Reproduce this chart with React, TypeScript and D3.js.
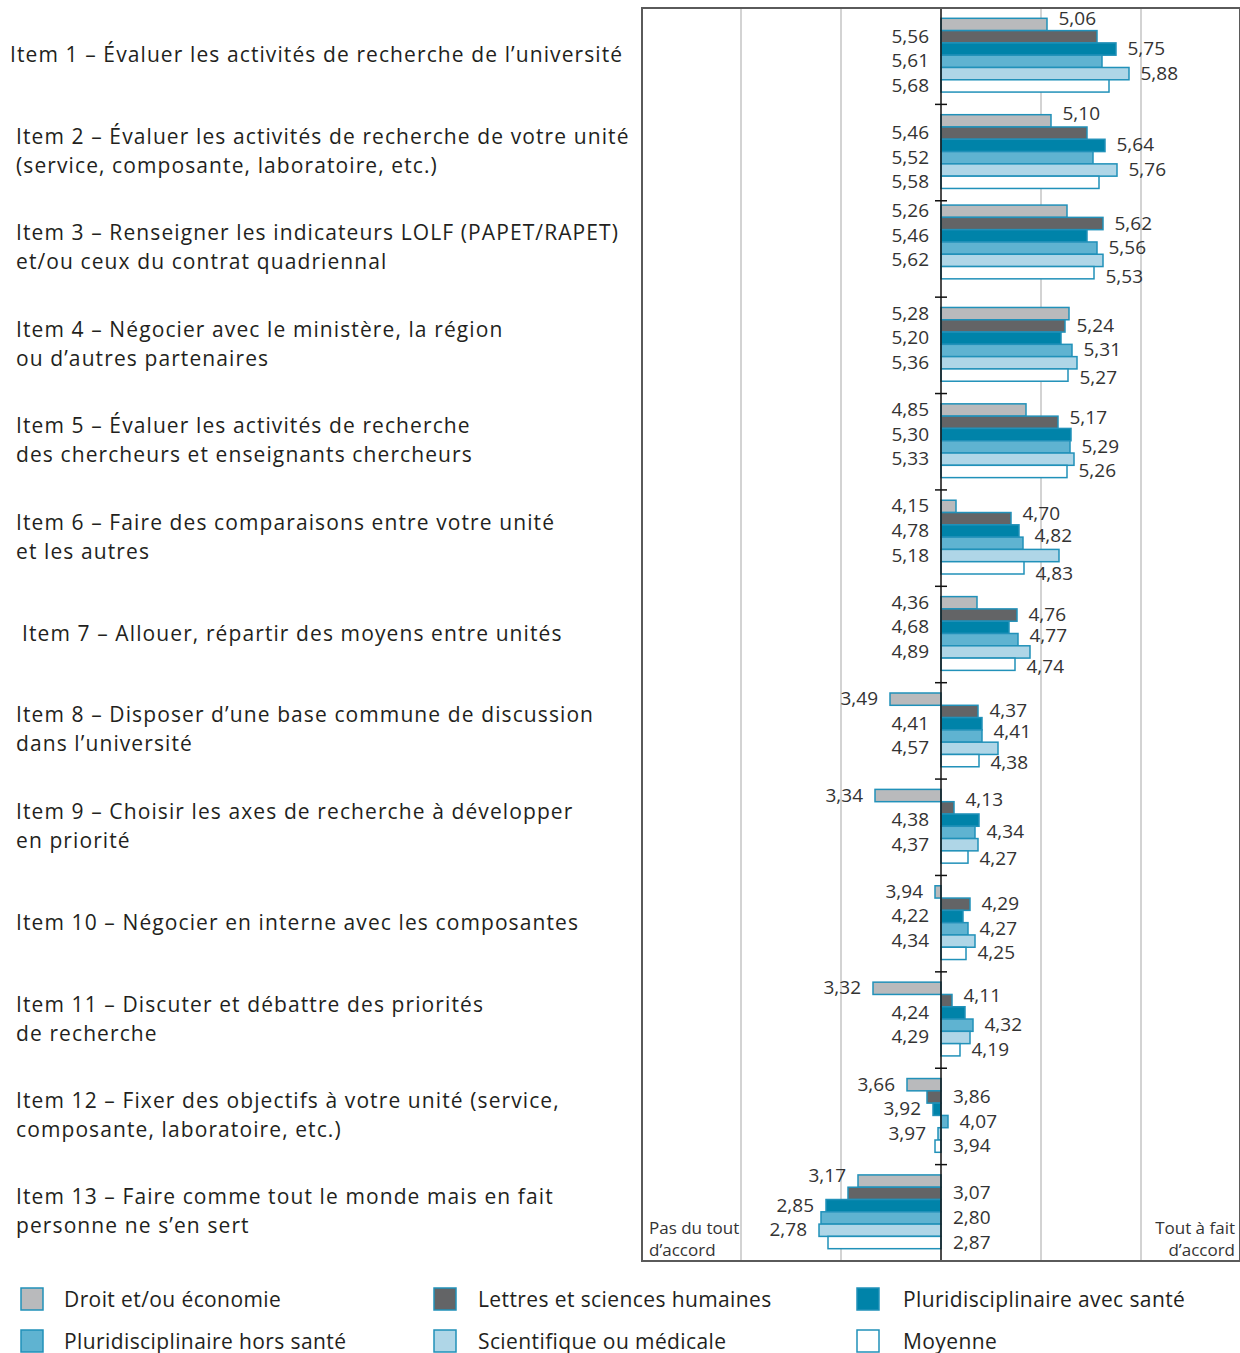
import React from "react";
import * as d3 from "d3";

const series = [
  "Droit et/ou économie",
  "Lettres et sciences humaines",
  "Pluridisciplinaire avec santé",
  "Pluridisciplinaire hors santé",
  "Scientifique ou médicale",
  "Moyenne",
];

const itemLabels: string[][] = [
  ["Item 1 – Évaluer les activités de recherche de l’université"],
  ["Item 2 – Évaluer les activités de recherche de votre unité", "(service, composante, laboratoire, etc.)"],
  ["Item 3 – Renseigner les indicateurs LOLF (PAPET/RAPET)", "et/ou ceux du contrat quadriennal"],
  ["Item 4 – Négocier avec le ministère, la région", "ou d’autres partenaires"],
  ["Item 5 – Évaluer les activités de recherche", "des chercheurs et enseignants chercheurs"],
  ["Item 6 – Faire des comparaisons entre votre unité", "et les autres"],
  ["Item 7 – Allouer, répartir des moyens entre unités"],
  ["Item 8 – Disposer d’une base commune de discussion", "dans l’université"],
  ["Item 9 – Choisir les axes de recherche à développer", "en priorité"],
  ["Item 10 – Négocier en interne avec les composantes"],
  ["Item 11 – Discuter et débattre des priorités", "de recherche"],
  ["Item 12 – Fixer des objectifs à votre unité (service,", "composante, laboratoire, etc.)"],
  ["Item 13 – Faire comme tout le monde mais en fait", "personne ne s’en sert"],
];

// values per series (13 items each)
const droit = [5.06, 5.10, 5.26, 5.28, 4.85, 4.15, 4.36, 3.49, 3.34, 3.94, 3.32, 3.66, 3.17];
const lettres = [5.56, 5.46, 5.62, 5.24, 5.17, 4.70, 4.76, 4.37, 4.13, 4.29, 4.11, 3.86, 3.07];
const pluriAvec = [5.75, 5.64, 5.46, 5.20, 5.30, 4.78, 4.68, 4.41, 4.38, 4.22, 4.24, 3.92, 2.85];
const pluriHors = [5.61, 5.52, 5.56, 5.31, 5.29, 4.82, 4.77, 4.41, 4.34, 4.27, 4.32, 4.07, 2.80];
const scient = [5.88, 5.76, 5.62, 5.36, 5.33, 5.18, 4.89, 4.57, 4.37, 4.34, 4.29, 3.97, 2.78];
const moyenne = [5.68, 5.58, 5.53, 5.27, 5.26, 4.83, 4.74, 4.38, 4.27, 4.25, 4.19, 3.94, 2.87];

const values = [droit, lettres, pluriAvec, pluriHors, scient, moyenne];

// ---- layout (not data) ----
// which parity of bar index gets its label on the left side (1 = bars 2,4,6 ; 0 = bars 1,3,5)
const leftParity = [1, 1, 0, 0, 0, 0, 0, 0, 0, 0, 0, 0, 0];
const labelIndent = [10, 16, 16, 16, 16, 16, 22, 16, 16, 16, 16, 16, 16];
const groupShift = [-1, -1, -7, -1, -1, -1, -1, -1, -1, -1, -1, -1, -1];
const labelNudge: Record<string, number> = {
  "0-0": -5, "1-0": -7, "2-5": 4, "3-5": 3, "4-1": -4, "5-1": -5, "5-3": -7, "5-5": 6,
  "6-3": -4, "6-5": 3, "7-3": -4, "7-5": 2, "8-1": -8, "8-5": 2, "10-1": -5, "12-0": -5,
};
const legendBoxX = [21, 434, 857];
const legendTextX = [64, 478, 903];

const fills = ["#b9babc", "#636466", "#0083a9", "#5fb3d1", "#afd6e7", "#ffffff"];
const strokeColor = "#2191b9";

const FONT = "'Open Sans', 'Noto Sans', sans-serif";
const fmt = (v: number) => v.toFixed(2).replace(".", ",");

export default function App() {
  const W = 1240;
  const H = 1353;
  const plotTop = 8;
  const plotBottom = 1261;
  const x = d3.scaleLinear().domain([1, 7]).range([641, 1241]);
  const items = itemLabels.map((_, i) => String(i));
  const y = d3.scaleBand().domain(items).range([plotTop, plotBottom]).padding(0);
  const yi = d3
    .scaleBand()
    .domain(series)
    .range([0, y.bandwidth()])
    .paddingInner(0)
    .paddingOuter(0.92);
  const cx = x(4);
  const grid = [2, 3, 5, 6];

  return (
    <svg
      width={W}
      height={H}
      style={{ position: "absolute", left: 0, top: 0, display: "block", background: "#fff" }}
      fontFamily={FONT}
    >
      {grid.map((g) => (
        <line key={g} x1={x(g)} x2={x(g)} y1={plotTop} y2={plotBottom} stroke="#c4c4c4" strokeWidth={1.5} />
      ))}
      {itemLabels.map((lines, i) => {
        const c = (y(String(i)) as number) + y.bandwidth() / 2 - 2;
        const lh = 29;
        const start = c - ((lines.length - 1) * lh) / 2;
        return (
          <text key={i} fontSize={21} fill="#231f20" letterSpacing={1.1}>
            {lines.map((l, j) => (
              <tspan key={j} x={labelIndent[i]} y={start + j * lh} dominantBaseline="central">
                {l}
              </tspan>
            ))}
          </text>
        );
      })}
      {items.map((it, i) => (
        <g key={it} transform={`translate(0,${(y(it) as number) + groupShift[i]})`}>
          {series.map((s, k) => {
            const v = values[k][i];
            const x0 = Math.min(x(v), cx);
            const w = Math.abs(x(v) - cx);
            return (
              <rect
                key={s}
                x={x0}
                y={yi(s)}
                width={w}
                height={yi.bandwidth()}
                fill={fills[k]}
                stroke={strokeColor}
                strokeWidth={1.5}
              />
            );
          })}
          {series.map((s, k) => {
            const v = values[k][i];
            const isLeft = (k % 2 === 1 ? 1 : 0) === leftParity[i];
            const yy = (yi(s) as number) + yi.bandwidth() / 2 + (labelNudge[`${i}-${k}`] || 0) - 1;
            let tx: number;
            let anchor: "start" | "end";
            if (isLeft) {
              anchor = "end";
              tx = v >= 4 ? cx - 12 : x(v) - 12;
            } else {
              anchor = "start";
              tx = v >= 4 ? x(v) + 11.5 : cx + 12;
            }
            return (
              <text key={s} x={tx} y={yy} textAnchor={anchor} dominantBaseline="central" fontSize={19} fill="#333">
                {fmt(v)}
              </text>
            );
          })}
        </g>
      ))}
      <line x1={cx} x2={cx} y1={plotTop} y2={plotBottom} stroke="#111" strokeWidth={1.5} />
      {items.slice(1).map((it) => (
        <line key={it} x1={cx - 6} x2={cx + 6} y1={y(it)} y2={y(it)} stroke="#111" strokeWidth={1.5} />
      ))}
      <rect x={642} y={plotTop} width={W - 642} height={plotBottom - plotTop} fill="none" stroke="#5a5a5a" strokeWidth={2} />
      <text fontSize={17} fill="#333">
        <tspan x={649} y={1234}>Pas du tout</tspan>
        <tspan x={649} y={1256}>d’accord</tspan>
      </text>
      <text fontSize={17} fill="#333" textAnchor="end">
        <tspan x={1235} y={1234}>Tout à fait</tspan>
        <tspan x={1235} y={1256}>d’accord</tspan>
      </text>
      {series.map((s, k) => {
        const col = k % 3;
        const row = Math.floor(k / 3);
        const ly = 1288 + row * 42;
        return (
          <g key={s}>
            <rect x={legendBoxX[col]} y={ly} width={22} height={22} fill={fills[k]} stroke={strokeColor} strokeWidth={1.5} />
            <text
              x={legendTextX[col]}
              y={ly + 11}
              dominantBaseline="central"
              fontSize={21}
              fill="#231f20"
              letterSpacing={0.4}
            >
              {s}
            </text>
          </g>
        );
      })}
    </svg>
  );
}
